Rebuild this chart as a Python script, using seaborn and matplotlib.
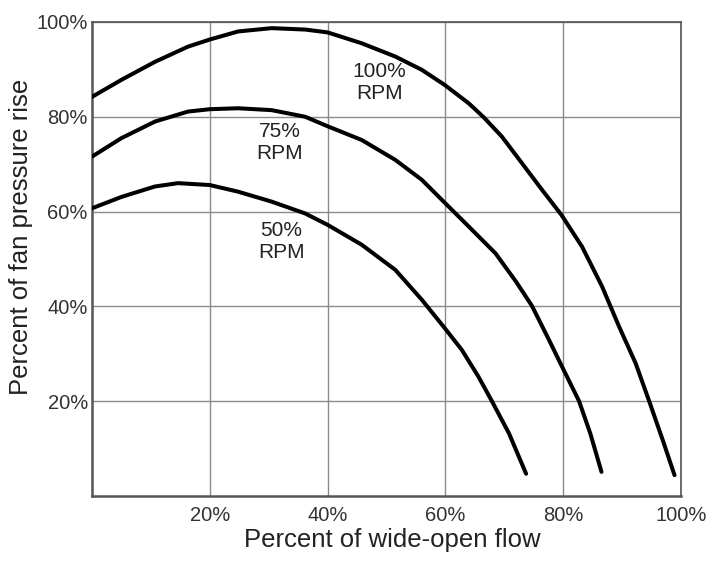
import matplotlib
matplotlib.use("Agg")
import matplotlib.pyplot as plt
import seaborn as sns
import pandas as pd

# Data (percent of wide-open flow vs percent of fan pressure rise)
flow_100 = [0, 5, 10.7, 16.3, 20, 24.8, 30.5, 36.2, 40, 45.8, 51.5, 56, 59.9, 64, 66.5,
            69.6, 73, 76.4, 79.7, 83.2, 86.6, 89.5, 92.3, 94.6, 96.9, 98.9]
pres_100 = [84.2, 87.8, 91.6, 94.8, 96.3, 98.0, 98.7, 98.4, 97.8, 95.5, 92.7, 89.9, 86.7, 82.8, 79.9,
            75.8, 70.2, 64.6, 59.3, 52.6, 44.2, 35.7, 28.0, 20.0, 11.8, 4.4]

flow_75 = [0, 5, 10.7, 16.3, 20, 24.8, 30.5, 36.2, 40, 45.8, 51.5, 56, 59.7, 64, 68.5,
           72, 74.7, 77.6, 79.8, 82.7, 84.6, 86.5]
pres_75 = [71.6, 75.5, 79.0, 81.1, 81.6, 81.8, 81.4, 80.0, 78.0, 75.1, 70.9, 66.7, 62.1, 56.8, 51.2,
           45.2, 40.1, 32.9, 27.3, 20.0, 13.2, 5.1]

flow_50 = [0, 5, 10.7, 14.6, 20, 24.8, 30.5, 36.2, 40, 45.8, 51.5, 56, 59.9, 62.8, 65.6,
           67.9, 70.8, 73.7]
pres_50 = [60.7, 63.1, 65.3, 66.0, 65.6, 64.2, 62.1, 59.6, 57.2, 53.0, 47.7, 41.4, 35.4, 30.8, 25.2,
           20.0, 13.2, 4.7]

series_names = ["100%\nRPM", "75%\nRPM", "50%\nRPM"]
label_pos_x = [48.8, 31.8, 32.1]
label_pos_y = [87.3, 74.5, 53.6]

x_ticks = [20, 40, 60, 80, 100]
x_tick_labels = ["20%", "40%", "60%", "80%", "100%"]
y_ticks = [20, 40, 60, 80, 100]
y_tick_labels = ["20%", "40%", "60%", "80%", "100%"]

frames = []
for name, xs, ys in zip(series_names, [flow_100, flow_75, flow_50], [pres_100, pres_75, pres_50]):
    frames.append(pd.DataFrame({"flow": xs, "pressure": ys, "speed": name}))
df = pd.concat(frames, ignore_index=True)

sns.set_theme(style="white")
plt.rcParams["font.family"] = ["Liberation Sans", "DejaVu Sans"]

fig = plt.figure(figsize=(7.09, 5.62), dpi=100)
ax = fig.add_axes([0.1298, 0.1174, 0.8307, 0.8435])

sns.lineplot(data=df, x="flow", y="pressure", hue="speed", units="speed",
             estimator=None, sort=False, palette=["black"] * 3,
             linewidth=2.9, legend=False, ax=ax, zorder=3)
for ln in ax.lines:
    ln.set_solid_capstyle("round")
    ln.set_solid_joinstyle("round")

ax.set_xlim(0, 100)
ax.set_ylim(0, 100)
ax.set_xticks(x_ticks)
ax.set_xticklabels(x_tick_labels)
ax.set_yticks(y_ticks)
ax.set_yticklabels(y_tick_labels)
ax.tick_params(axis="both", length=0, labelsize=14.5, colors="#333333")
ax.tick_params(axis="x", pad=7)
ax.tick_params(axis="y", pad=3)

ax.grid(True, color="#8a8a8a", linewidth=1.0)
ax.set_axisbelow(True)
for side, sp in ax.spines.items():
    sp.set_visible(True)
    sp.set_color("#555555")
    sp.set_linewidth(1.8 if side in ("left", "bottom") else 1.2)

ax.set_xlabel("Percent of wide-open flow", fontsize=18.5, color="#222222")
ax.set_ylabel("Percent of fan pressure rise", fontsize=18.5, color="#222222")
ax.xaxis.set_label_coords(0.51, -0.068)
ax.yaxis.set_label_coords(-0.100, 0.546)

for name, lx, ly in zip(series_names, label_pos_x, label_pos_y):
    ax.text(lx, ly, name, ha="center", va="center", fontsize=15,
            color="#222222", linespacing=1.2, zorder=4)

fig.savefig("out.png", dpi=100)
